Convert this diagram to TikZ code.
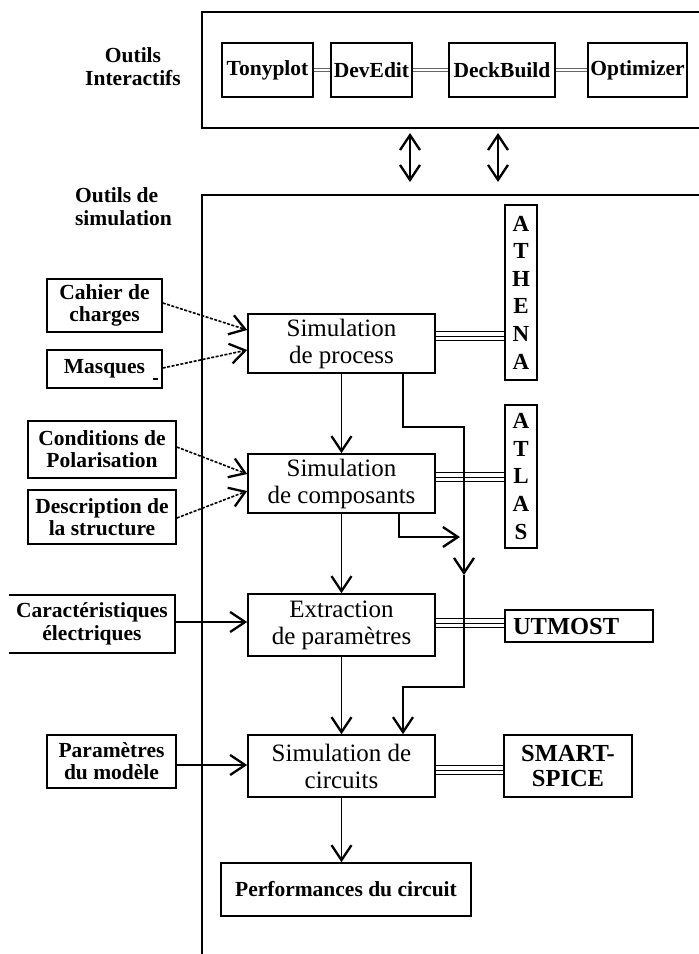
\documentclass[tikz,border=0pt]{standalone}
\usepackage{fontspec}
\setmainfont{Liberation Serif}
\usetikzlibrary{arrows.meta}
\begin{document}
\begin{tikzpicture}[x=1pt,y=-1pt,
  >={Straight Barb[length=15pt,width=20pt,line width=2.3pt]},
  frame/.style={line width=2pt},
  edge/.style={line width=1.6pt},
  lbl/.style={font=\fontsize{21.5}{23}\selectfont\bfseries, align=center},
  box/.style={draw, line width=1.6pt, inner sep=0pt, align=center},
  tool/.style={box, font=\fontsize{21.5}{22}\selectfont\bfseries},
  big/.style={box, font=\fontsize{24.5}{25}\selectfont\bfseries},
  sim/.style={box, font=\fontsize{25}{27}\selectfont, minimum width=187pt},
  vert/.style={box, font=\fontsize{23}{27.6}\selectfont\bfseries, minimum width=32pt},
  flow/.style={line width=1.6pt},
  feed/.style={flow, dash pattern=on 3pt off 1.5pt},
  bus/.style={line width=1pt},
  link/.style={draw=gray!80!black, line width=0.9pt}
]
\useasboundingbox (0,0) rectangle (699,954);

% section titles
\node[lbl] (oi) at (133,67) {Outils\\Interactifs};
\node[lbl, align=left] (os) at (123.5,207) {Outils de\\simulation};

% frames of the two tool groups
\draw[frame] (699,12) -- (202,12) -- (202,128) -- (699,128);
\draw[frame] (699,195) -- (202,195) -- (202,954);

% interactive tools
\node[tool, minimum width=91pt, minimum height=54pt] (tony) at (267.5,70) {Tonyplot};
\node[tool, minimum width=81pt, minimum height=54pt] (dev) at (371.5,70) {DevEdit};
\node[tool, minimum width=106pt, minimum height=54pt] (deck) at (502,70) {DeckBuild};
\node[tool, minimum width=99pt, minimum height=54pt] (opt) at (637.5,70) {Optimizer};
\foreach \s in {-1.3pt,1.3pt}{
  \draw[link] ([yshift=\s]tony.east) -- ([yshift=\s]dev.west);
  \draw[link] ([yshift=\s]dev.east) -- ([yshift=\s]deck.west);
  \draw[link] ([yshift=\s]deck.east) -- ([yshift=\s]opt.west);
}

% exchange between the two groups
\coordinate (u1) at (410,133); \coordinate (d1) at (410,182);
\coordinate (u2) at (498,133); \coordinate (d2) at (498,182);
\draw[flow,<->] (u1) -- (d1);
\draw[flow,<->] (u2) -- (d2);

% inputs
\node[tool, minimum width=115pt, minimum height=53pt] (cahier) at (104.5,305.5) {Cahier de\\charges};
\node[tool, minimum width=115pt, minimum height=38pt] (masq) at (104.5,369) {Masques};
\draw[line width=1.5pt] (153,379) -- (158,379);
\node[tool, minimum width=148pt, minimum height=57pt] (cond) at (102,449.5) {Conditions de\\Polarisation};
\node[tool, minimum width=148pt, minimum height=54pt] (descr) at (102,517) {Description de\\la structure};
\node[lbl, inner sep=0pt, minimum width=166pt, minimum height=58pt] (carac) at (92,624) {Caractéristiques\\électriques};
\draw[edge] (carac.north west) -- (carac.north east) -- (carac.south east) -- (carac.south west);
\node[tool, minimum width=129pt, minimum height=53pt] (param) at (111.5,761.5) {Paramètres\\du modèle};

% simulation chain
\node[sim, minimum height=59pt] (proc) at (341.5,343.5) {Simulation\\de process};
\node[sim, minimum height=59pt] (comp) at (341.5,483.5) {Simulation\\de composants};
\node[sim, minimum height=62pt] (extr) at (341.5,625) {Extraction\\de paramètres};
\node[sim, minimum height=62pt] (circ) at (341.5,766) {Simulation de\\circuits};
\node[tool, minimum width=250pt, minimum height=53pt] (perf) at (346,889.5) {Performances du circuit};

% simulators
\node[vert, minimum height=175pt] (athena) at (521,292.5) {A\\T\\H\\E\\N\\A};
\node[vert, minimum height=143pt] (atlas) at (521,476.5) {A\\T\\L\\A\\S};
\node[big, minimum width=148pt, minimum height=32pt, text width=132pt, align=left] (utmost) at (579,626) {UTMOST};
\node[big, minimum width=128pt, minimum height=62pt] (smart) at (568,766) {SMART-\\SPICE};

% triple buses to the simulators
\draw[bus, double distance=7.4pt] (proc.east |- 0,336) -- (athena.west |- 0,336);
\draw[bus] (proc.east |- 0,336) -- (athena.west |- 0,336);
\draw[bus, double distance=7.4pt] (comp.east |- 0,477) -- (atlas.west |- 0,477);
\draw[bus] (comp.east |- 0,477) -- (atlas.west |- 0,477);
\draw[bus, double distance=7.4pt] (extr.east |- 0,623) -- (utmost.west |- 0,623);
\draw[bus] (extr.east |- 0,623) -- (utmost.west |- 0,623);
\draw[bus, double distance=7.4pt] (circ.east |- 0,770) -- (smart.west |- 0,770);
\draw[bus] (circ.east |- 0,770) -- (smart.west |- 0,770);

% inputs into the chain
\draw[feed,->] (cahier.east |- 0,303) -- (proc.west |- 0,330);
\draw[feed,->] (masq.east |- 0,368) -- (proc.west |- 0,350);
\draw[feed,->] (cond.east |- 0,447) -- (comp.west |- 0,474);
\draw[feed,->] (descr.east |- 0,518) -- (comp.west |- 0,491);
\draw[flow,->] (carac.east |- 0,622) -- (extr.west |- 0,622);
\draw[flow,->] (param.east |- 0,765) -- (circ.west |- 0,765);

% main flow
\draw[flow,->] (proc.south) -- (comp.north);
\draw[flow,->] (comp.south) -- (extr.north);
\draw[flow,->] (extr.south) -- (circ.north);
\draw[flow,->] (circ.south) -- (circ.south |- perf.north);

% bypass from process simulation to circuit simulation
\coordinate (j1) at (464,575);
\draw[flow,->] (proc.south -| 403,0) -- (403,427) -- (464,427) -- (j1);
\draw[flow,->] (j1) -- (464,687) -- (403,687) -- (circ.north -| 403,0);
% bypass from device simulation joining it
\coordinate (j2) at (460,537);
\draw[flow,->] (comp.south -| 399,0) -- (399,537) -- (j2);
\end{tikzpicture}
\end{document}
